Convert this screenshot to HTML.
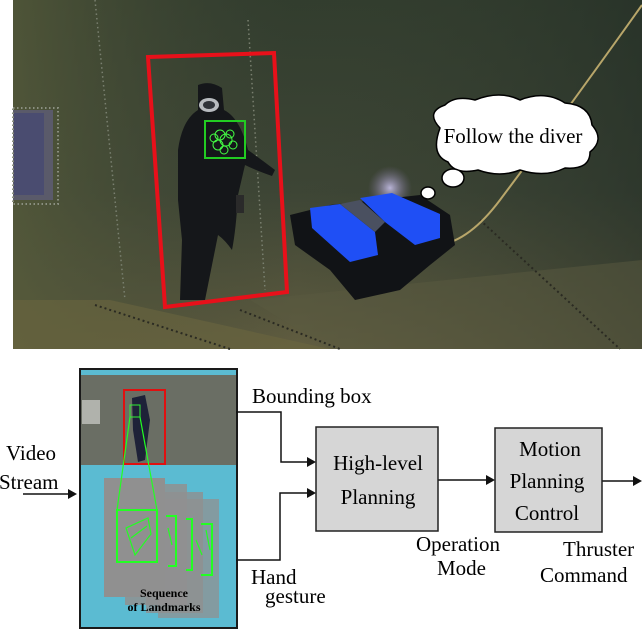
<!DOCTYPE html>
<html><head><meta charset="utf-8"><style>
html,body{margin:0;padding:0;background:#fff;width:642px;height:630px;overflow:hidden}
svg{display:block}
text{font-family:"Liberation Serif",serif;fill:#000}
</style></head><body>
<svg width="642" height="630" viewBox="0 0 642 630" xmlns="http://www.w3.org/2000/svg">
<defs>
<linearGradient id="bg" x1="0" y1="0" x2="0" y2="1">
<stop offset="0" stop-color="#323d2e"/><stop offset="0.55" stop-color="#3d4535"/><stop offset="1" stop-color="#615d40"/>
</linearGradient>
<linearGradient id="bgl" x1="0" y1="0" x2="1" y2="0">
<stop offset="0" stop-color="#555a3a" stop-opacity="0.8"/><stop offset="0.45" stop-color="#3a4233" stop-opacity="0"/><stop offset="1" stop-color="#1f2a24" stop-opacity="0.5"/>
</linearGradient>
<radialGradient id="glow" cx="0.5" cy="0.5" r="0.5"><stop offset="0" stop-color="#d8d0ff" stop-opacity="0.8"/><stop offset="1" stop-color="#8070a0" stop-opacity="0"/></radialGradient>
</defs>
<rect x="13" y="0" width="629" height="349" fill="url(#bg)"/>
<rect x="13" y="0" width="629" height="349" fill="url(#bgl)"/>
<polygon points="13,300 110,300 330,349 13,349" fill="#6a6540" opacity="0.6"/>
<polygon points="250,300 642,260 642,349 330,349" fill="#5a5a40" opacity="0.5"/>
<line x1="95" y1="305" x2="230" y2="349" stroke="#2a2a22" stroke-width="2" stroke-dasharray="2 3"/>
<line x1="240" y1="310" x2="340" y2="349" stroke="#2a2a22" stroke-width="2" stroke-dasharray="2 3"/>
<line x1="480" y1="220" x2="620" y2="349" stroke="#2a2a22" stroke-width="2" stroke-dasharray="2 3"/>
<line x1="95" y1="0" x2="125" y2="300" stroke="#7a8070" stroke-width="1.5" stroke-dasharray="1.5 3"/>
<line x1="248" y1="20" x2="265" y2="290" stroke="#7a8070" stroke-width="1.5" stroke-dasharray="1.5 3"/>
<rect x="13" y="110" width="40" height="90" fill="#5a5a6a"/>
<rect x="14" y="113" width="30" height="82" fill="#4a4c70"/>
<rect x="13" y="108" width="45" height="96" fill="none" stroke="#8a8f80" stroke-width="2" stroke-dasharray="1.5 2.5"/>
<path d="M198 85 Q210 80 222 88 L224 110 Q240 118 248 150 Q262 160 275 170 L272 176 Q255 170 245 165 L238 195 Q236 230 232 250 Q225 240 218 235 L205 300 L180 300 L182 240 L178 200 L178 150 Q182 120 198 110 Z" fill="#15171a"/>
<ellipse cx="209" cy="105" rx="10" ry="7" fill="#b8bcc0"/>
<ellipse cx="209" cy="105" rx="6" ry="4" fill="#30343a"/>
<rect x="236" y="195" width="8" height="18" fill="#2a2a2a"/>
<polygon points="148,57 274,53 287,292 165,307" fill="none" stroke="#e8101a" stroke-width="4"/>
<rect x="205" y="121" width="40" height="37" fill="none" stroke="#22cc22" stroke-width="2"/>
<g fill="none" stroke="#44ff44" stroke-width="1">
<circle cx="220" cy="135" r="5"/><circle cx="226" cy="140" r="6"/><circle cx="218" cy="145" r="5"/><circle cx="230" cy="134" r="4"/><circle cx="224" cy="150" r="4"/><circle cx="233" cy="145" r="4"/><circle cx="214" cy="138" r="4"/>
</g>
<path d="M642 5 Q560 120 500 200 Q470 240 440 245" fill="none" stroke="#b8a66a" stroke-width="2"/>
<circle cx="390" cy="188" r="22" fill="url(#glow)"/>
<polygon points="290,215 330,205 420,195 450,215 455,245 430,265 400,290 355,300 330,270 295,245" fill="#111316"/>
<polygon points="310,208 340,204 375,232 378,255 350,262 312,228" fill="#1f4ff5"/>
<polygon points="360,198 392,193 440,214 440,238 415,245 385,222" fill="#1f4ff5"/>
<polygon points="340,204 360,200 385,222 375,232" fill="#4a5060"/>
<g fill="#fff" stroke="#000" stroke-width="1.5">
<path d="M440 128 Q425 112 445 105 Q455 95 475 100 Q500 90 520 100 Q545 90 565 103 Q590 105 592 125 Q605 140 590 152 Q590 170 565 168 Q545 178 520 170 Q500 178 478 170 Q455 175 448 162 Q430 155 440 128 Z"/>
<ellipse cx="453" cy="178" rx="11" ry="9"/>
<ellipse cx="428" cy="193" rx="7" ry="6"/>
</g>
<text x="513" y="143" font-size="21" text-anchor="middle">Follow the diver</text>

<rect x="80" y="369" width="157" height="259" fill="#5bbbd2" stroke="#1a1a1a" stroke-width="2"/>
<rect x="81" y="375" width="155" height="90" fill="#6a6e64"/>
<rect x="82" y="400" width="18" height="24" fill="#b0b2ac"/>
<path d="M132 398 L145 395 L150 420 L145 460 L138 462 L133 430 Z" fill="#1e2238"/>
<rect x="124" y="390" width="41" height="74" fill="none" stroke="#e01010" stroke-width="2"/>
<rect x="130" y="405" width="10" height="12" fill="none" stroke="#33ee33" stroke-width="1"/>
<rect x="104" y="478" width="61" height="119" fill="#909090"/>
<rect x="125" y="484" width="62" height="121" fill="#909090" opacity="0.85"/>
<rect x="146" y="492" width="57" height="121" fill="#909090" opacity="0.8"/>
<rect x="158" y="499" width="61" height="119" fill="#909090" opacity="0.75"/>
<g fill="none" stroke="#22ff22" stroke-width="1.2">
<line x1="130" y1="417" x2="117" y2="510"/><line x1="140" y1="417" x2="157" y2="510"/>
<rect x="117" y="510" width="40" height="52" stroke-width="2"/>
<path d="M166 516 L176 516 L176 566 L168 566" stroke-width="2"/>
<path d="M186 519 L192 519 L192 570 L186 570" stroke-width="2"/>
<path d="M201 524 L212 524 L212 575 L201 575" stroke-width="2"/>
<path d="M126 528 L148 518 L151 534 L135 555 Z M131 538 L147 526"/>
<path d="M168 528 L172 545 M196 540 L202 555 M206 530 L210 550"/>
</g>
<text x="164" y="597" font-size="12" font-weight="bold" text-anchor="middle">Sequence</text>
<text x="164" y="611" font-size="12" font-weight="bold" text-anchor="middle">of Landmarks</text>

<g stroke="#111" stroke-width="1.5" fill="none">
<path d="M236 412 L281 412 L281 462 L308 462"/>
<path d="M236 560 L280 560 L280 493 L308 493"/>
<line x1="23" y1="494" x2="69" y2="494"/>
<line x1="438" y1="480" x2="487" y2="480"/>
<line x1="602" y1="481" x2="634" y2="481"/>
</g>
<g fill="#111">
<polygon points="316,462 307,457 307,467"/>
<polygon points="316,493 307,488 307,498"/>
<polygon points="77,494 68,489 68,499"/>
<polygon points="495,480 486,475 486,485"/>
<polygon points="642,481 633,476 633,486"/>
</g>
<rect x="316" y="427" width="122" height="104" fill="#d6d6d6" stroke="#222" stroke-width="1.5"/>
<rect x="495" y="428" width="107" height="104" fill="#d6d6d6" stroke="#222" stroke-width="1.5"/>
<g font-size="21">
<text x="252" y="403">Bounding box</text>
<text x="378" y="470" text-anchor="middle">High-level</text>
<text x="378" y="504" text-anchor="middle">Planning</text>
<text x="550" y="456" text-anchor="middle">Motion</text>
<text x="547" y="488" text-anchor="middle">Planning</text>
<text x="547" y="520" text-anchor="middle">Control</text>
<text x="416" y="551">Operation</text>
<text x="437" y="575">Mode</text>
<text x="563" y="556">Thruster</text>
<text x="540" y="582">Command</text>
<text x="251" y="584">Hand</text>
<text x="265" y="603">gesture</text>
<text x="6" y="460">Video</text>
<text x="-1" y="489">Stream</text>
</g>
</svg>
</body></html>
